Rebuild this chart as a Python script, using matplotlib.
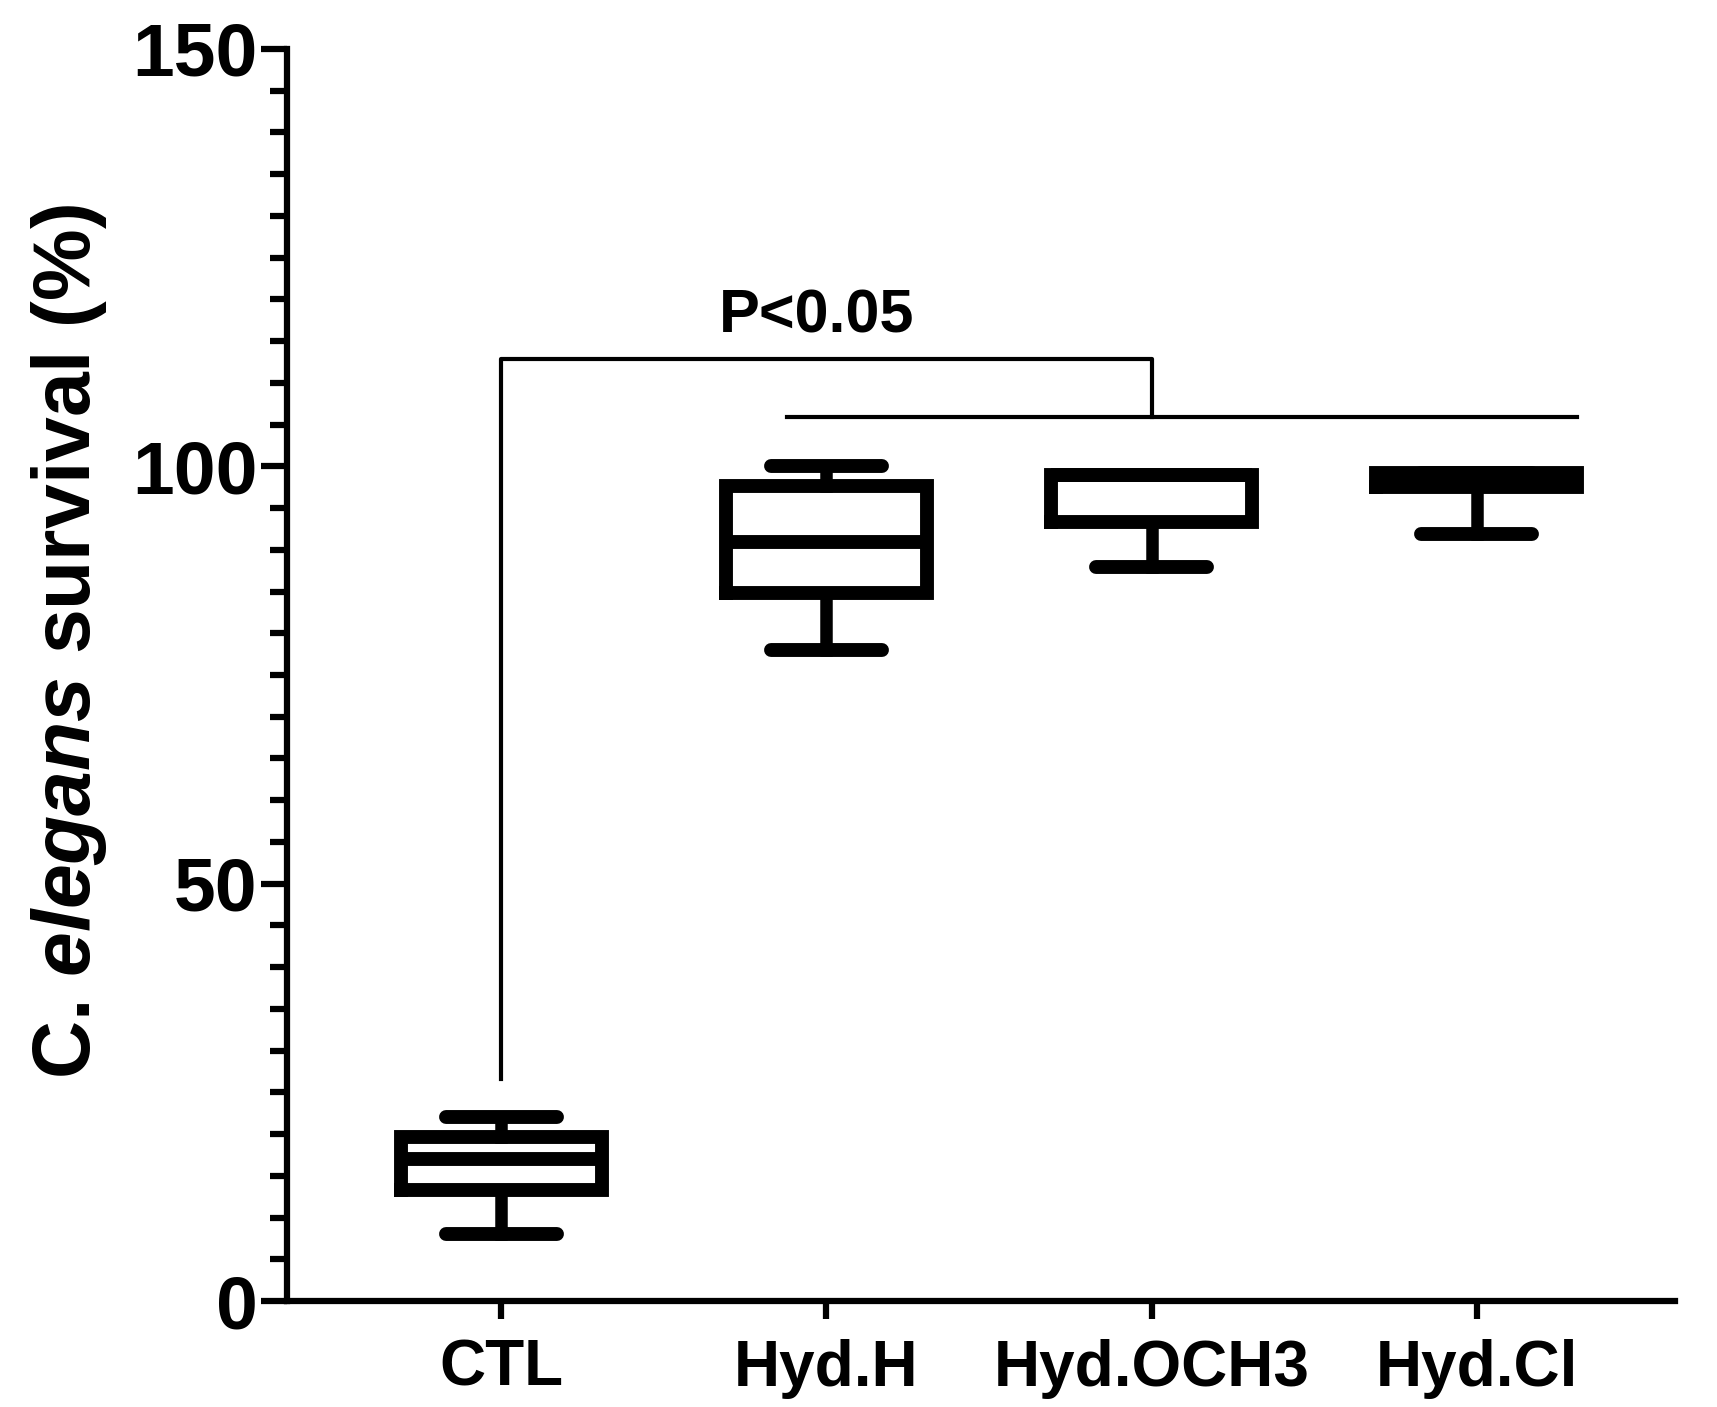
import matplotlib
matplotlib.use("Agg")
import matplotlib.pyplot as plt
from matplotlib.ticker import MultipleLocator

groups = ["CTL", "Hyd.H", "Hyd.OCH3", "Hyd.Cl"]
whis_low = [8.0, 78.0, 87.9, 91.9]
q1 = [13.3, 84.8, 93.3, 97.5]
median = [17.0, 90.9, 99.0, 98.4]
q3 = [19.6, 97.6, 99.0, 99.2]
whis_high = [22.0, 100.0, 99.0, 99.2]

plt.rcParams["font.family"] = ["Liberation Sans", "DejaVu Sans"]
plt.rcParams["font.weight"] = "bold"
plt.rcParams["mathtext.fontset"] = "custom"
plt.rcParams["mathtext.rm"] = "Liberation Sans:bold"
plt.rcParams["mathtext.it"] = "Liberation Sans:italic:bold"

fig = plt.figure(figsize=(17.17, 14.07), dpi=100)
ax = fig.add_axes([0.167, 0.0753, 0.8085, 0.8899])

stats = []
for i, g in enumerate(groups):
    stats.append({"label": g, "whislo": whis_low[i], "q1": q1[i], "med": median[i],
                  "q3": q3[i], "whishi": whis_high[i]})

lw = 10
ax.bxp(stats, positions=range(len(groups)), widths=0.62, showfliers=False,
       capwidths=0.34,
       boxprops=dict(color="black", linewidth=lw, solid_joinstyle="miter"),
       medianprops=dict(color="black", linewidth=lw, solid_capstyle="butt"),
       whiskerprops=dict(color="black", linewidth=lw * 0.9),
       capprops=dict(color="black", linewidth=lw, solid_capstyle="round"))

# significance bracket
ax.plot([0, 0, 2, 2], [26.6, 112.9, 112.9, 105.9], color="black", lw=3)
ax.plot([0.88, 3.31], [105.9, 105.9], color="black", lw=3)
ax.text(0.97, 116.0, "P<0.05", ha="center", va="baseline", fontsize=44, fontweight="bold")

ax.set_xlim(-0.66, 3.61)
ax.set_ylim(0, 150)
ax.yaxis.set_major_locator(MultipleLocator(50))
ax.yaxis.set_minor_locator(MultipleLocator(5))
ax.set_xticks(range(len(groups)))
ax.set_xticklabels(groups, fontsize=46, fontweight="bold")
ax.tick_params(axis="y", which="major", length=19, width=4.5, labelsize=54, pad=2)
ax.tick_params(axis="y", which="minor", length=12, width=4.5)
ax.tick_params(axis="x", which="major", length=13, width=4.5, pad=14)
for t in ax.get_yticklabels():
    t.set_fontweight("bold")

for s in ["top", "right"]:
    ax.spines[s].set_visible(False)
for s in ["left", "bottom"]:
    ax.spines[s].set_linewidth(4.5)

ax.set_ylabel(r"C. $\mathit{elegans}$ survival (%)", fontsize=58, fontweight="bold")
ax.yaxis.set_label_coords(-0.128, 0.527)

fig.savefig("out.png", dpi=100)
